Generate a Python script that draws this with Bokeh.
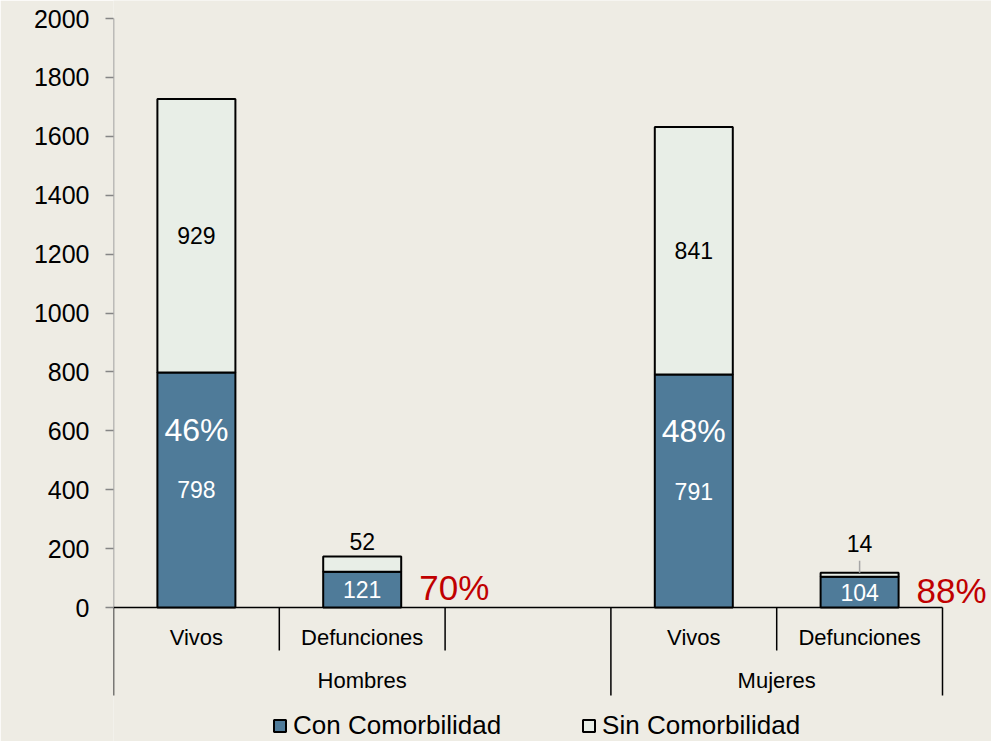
from bokeh.plotting import figure
from bokeh.models import ColumnDataSource, FixedTicker, Legend, LegendItem, Range1d
from bokeh.core.properties import value
from bokeh.embed import file_html
from bokeh.resources import INLINE

# ---------------- data ----------------
groups = ["Hombres", "Mujeres"]
categories = ["Vivos", "Defunciones", "Vivos", "Defunciones"]
con = [798, 121, 791, 104]          # Con Comorbilidad
sin = [929, 52, 841, 14]            # Sin Comorbilidad
pct_labels = ["46%", "70%", "48%", "88%"]
series = ["Con Comorbilidad", "Sin Comorbilidad"]
y_ticks = [0, 200, 400, 600, 800, 1000, 1200, 1400, 1600, 1800, 2000]

# ---------------- layout ----------------
slots = [0, 1, 3, 4]                 # slot index of each bar (slot 2 empty)
group_spans = [(0, 3), (3, 5)]
short_seps = [1, 2, 4]
W, H = 991, 741
LEFT = 113
TOP_PX, ZERO_PX = 18, 607
upp = 2000 / (ZERO_PX - TOP_PX)      # data units per pixel
y_end = 2000 + TOP_PX * upp
y_start = -(H - ZERO_PX) * upp
SLOT_PX = 165.8
x_end = (W - LEFT) / SLOT_PX
BAR_W = 78 / SLOT_PX

BG = "#EEECE4"
BLUE = "#4F7B99"
LIGHT = "#E8EEE7"
RED = "#C00000"
GREY = "#858585"
FONT = "Liberation Sans"

xs = [s + 0.5 for s in slots]
tot = [c + s for c, s in zip(con, sin)]

p = figure(width=W, height=H, output_backend="svg", toolbar_location=None,
           x_range=Range1d(0, x_end), y_range=Range1d(y_start, y_end),
           x_axis_location=None, min_border_left=LEFT, min_border_right=0,
           min_border_top=0, min_border_bottom=0)
p.background_fill_color = BG
p.border_fill_color = BG
p.outline_line_color = None
p.grid.grid_line_color = None

ax = p.yaxis[0]
ax.ticker = FixedTicker(ticks=y_ticks)
ax.axis_line_color = None
ax.major_tick_in = 0
ax.major_tick_out = 8
ax.major_tick_line_color = GREY
ax.major_tick_line_width = 1.5
ax.minor_tick_line_color = None
ax.major_label_standoff = 16
ax.major_label_text_font = FONT
ax.major_label_text_font_size = "25px"
ax.major_label_text_color = "black"

# axis lines
p.segment(x0=[0], y0=[0], x1=[0], y1=[2000], line_color=GREY, line_width=1.5)
p.segment(x0=[0], y0=[0], x1=[5], y1=[0], line_color="black", line_width=1.5)
tall = [a for a, b in group_spans] + [group_spans[-1][1]]
p.segment(x0=tall, y0=[0] * len(tall), x1=tall, y1=[-88 * upp] * len(tall),
          line_color="black", line_width=1.5)
p.segment(x0=short_seps, y0=[0] * 3, x1=short_seps, y1=[-43 * upp] * 3,
          line_color="black", line_width=1.5)

src = ColumnDataSource(dict(x=xs, con=con, sin=sin, tot=tot))
r_con = p.vbar(x="x", bottom=0, top="con", width=BAR_W, source=src,
               fill_color=BLUE, line_color="black", line_width=2)
r_sin = p.vbar(x="x", bottom="con", top="tot", width=BAR_W, source=src,
               fill_color=LIGHT, line_color="black", line_width=2)

# value labels
viv = [i for i, c in enumerate(categories) if c == "Vivos"]
dfn = [i for i, c in enumerate(categories) if c == "Defunciones"]

p.text(x=xs, y=[c / 2 for c in con], text=[str(c) for c in con],
       text_align="center", text_baseline="middle", text_color="white",
       text_font=value(FONT), text_font_size="23px")
p.text(x=[xs[i] for i in viv], y=[con[i] + sin[i] / 2 for i in viv],
       text=[str(sin[i]) for i in viv], text_align="center", text_baseline="middle",
       text_color="black", text_font=value(FONT), text_font_size="23px")
above_px = [15, 29]
p.text(x=[xs[i] for i in dfn], y=[tot[i] for i in dfn],
       text=[str(sin[i]) for i in dfn], y_offset=[-o for o in above_px],
       text_align="center", text_baseline="middle",
       text_color="black", text_font=value(FONT), text_font_size="23px")
# leader line for the small label
i4 = dfn[1]
p.segment(x0=[xs[i4]], y0=[tot[i4]], x1=[xs[i4]], y1=[tot[i4] + 12 * upp],
          line_color="#A6A6A6", line_width=1.5)

# percentages
p.text(x=[xs[i] for i in viv], y=[con[i] / 2 for i in viv],
       text=[pct_labels[i] for i in viv], y_offset=-60,
       text_align="center", text_baseline="middle", text_color="white",
       text_font=value(FONT), text_font_size="32px")
p.text(x=[xs[i] + BAR_W / 2 for i in dfn], y=[con[i] / 2 for i in dfn],
       text=[pct_labels[i] for i in dfn], x_offset=18, y_offset=-2,
       text_align="left", text_baseline="middle", text_color=RED,
       text_font=value(FONT), text_font_size="35px")

# category labels
p.text(x=xs, y=[0] * len(xs), text=categories, y_offset=30,
       text_align="center", text_baseline="middle", text_color="black",
       text_font=value(FONT), text_font_size="22px")
p.text(x=[(a + b) / 2 for a, b in group_spans], y=[0, 0], text=groups, y_offset=73,
       text_align="center", text_baseline="middle", text_color="black",
       text_font=value(FONT), text_font_size="22px")

legend = Legend(items=[LegendItem(label=series[0], renderers=[r_con]),
                       LegendItem(label=series[1], renderers=[r_sin])],
                location=(159, 0), orientation="horizontal",
                glyph_width=15, glyph_height=15, label_standoff=6, spacing=80,
                padding=0, margin=0, border_line_color=None,
                background_fill_alpha=0,
                label_text_font=FONT, label_text_font_size="26px",
                label_text_color="black")
p.add_layout(legend, "center")

open("out.html", "w").write(file_html(p, INLINE))
